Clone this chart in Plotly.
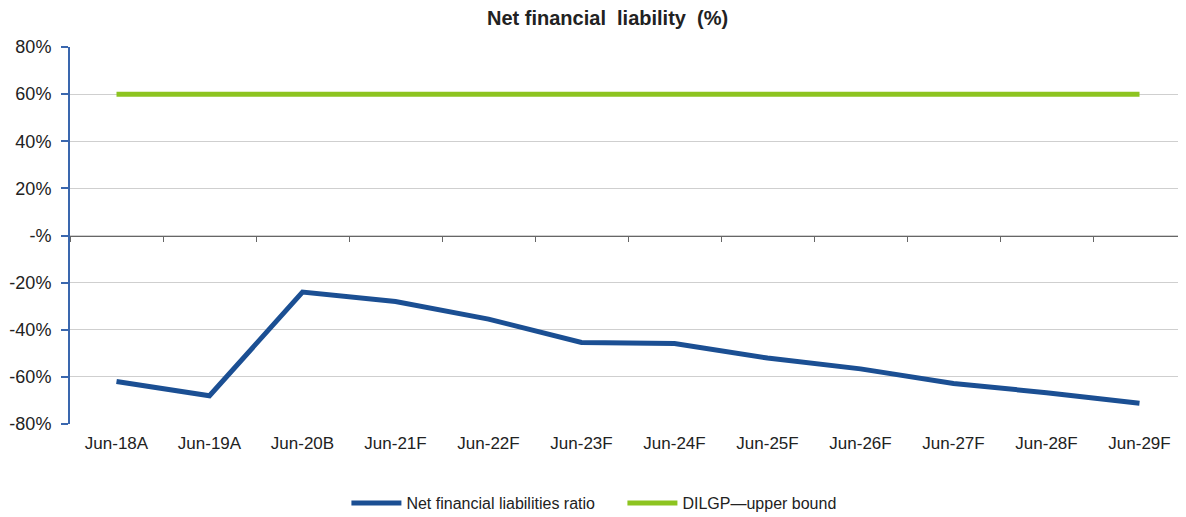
"""
Net financial liability chart
Recreate the ratio vs upper bound line chart
"""

import plotly.graph_objects as go

# categories on the x axis
periods = [
    "Jun-18A", "Jun-19A", "Jun-20B", "Jun-21F", "Jun-22F", "Jun-23F",
    "Jun-24F", "Jun-25F", "Jun-26F", "Jun-27F", "Jun-28F", "Jun-29F",
]

# series values (%)
net_liab_ratio = [-62, -68, -24, -28, -35.5, -45.4, -45.8, -52, -56.6, -62.8, -66.7, -71.2]
dilgp_upper = [60, 60, 60, 60, 60, 60, 60, 60, 60, 60, 60, 60]

# y tick labels
y_ticks = [80, 60, 40, 20, 0, -20, -40, -60, -80]
y_tick_text = ["80%", "60%", "40%", "20%", "-%", "-20%", "-40%", "-60%", "-80%"]

BLUE = "#1B4F93"
GREEN = "#8DC420"
AXIS_BLUE = "#3A67AE"
FONT = "Liberation Sans, Arial, sans-serif"

# page body has an 8px margin, so the figure is sized to fit the window
W, H = 1178, 509

fig = go.Figure()

fig.add_trace(
    go.Scatter(
        x=periods,
        y=net_liab_ratio,
        mode="lines",
        name="Net financial liabilities ratio",
        line=dict(color=BLUE, width=5),
    )
)

fig.add_trace(
    go.Scatter(
        x=periods,
        y=dilgp_upper,
        mode="lines",
        name="DILGP\u2014upper bound",
        line=dict(color=GREEN, width=5),
        xaxis="x2",
    )
)

fig.update_layout(
    title=dict(
        text="<b>Net financial  liability  (%)</b>",
        x=0.509,
        xanchor="center",
        y=1 - 10 / H,
        yref="container",
        yanchor="middle",
        font=dict(family=FONT, size=20, color="#222"),
    ),
    width=W,
    height=H,
    margin=dict(l=62, r=0, t=39, b=93, autoexpand=False),
    paper_bgcolor="white",
    plot_bgcolor="white",
    font=dict(family=FONT, size=16, color="#222"),
    showlegend=True,
    legend=dict(
        orientation="h",
        x=0.495,
        xanchor="center",
        y=-0.21,
        yanchor="middle",
        font=dict(size=16),
        itemwidth=50,
        entrywidth=211,
        tracegroupgap=0,
    ),
    # category labels sit at the bottom
    xaxis=dict(
        type="category",
        range=[-0.5, 11.5],
        automargin=False,
        showgrid=False,
        showline=False,
        zeroline=False,
        ticks="",
        ticklabelstandoff=7,
        tickfont=dict(size=17),
    ),
    # axis line with boundary ticks drawn along the zero line
    xaxis2=dict(
        type="category",
        overlaying="x",
        anchor="free",
        position=0.5,
        range=[-0.5, 11.5],
        automargin=False,
        showline=True,
        linecolor="#666",
        linewidth=1,
        ticks="outside",
        tickson="boundaries",
        ticklen=5,
        tickcolor="#666",
        showticklabels=False,
        showgrid=False,
        zeroline=False,
    ),
    yaxis=dict(
        range=[-80, 80],
        automargin=False,
        tickvals=y_ticks,
        ticktext=y_tick_text,
        showgrid=True,
        gridcolor="#CFCFCF",
        gridwidth=1,
        zeroline=False,
        showline=True,
        linecolor=AXIS_BLUE,
        linewidth=2,
        ticks="outside",
        ticklen=7,
        tickcolor=AXIS_BLUE,
        tickwidth=2,
        ticklabelstandoff=6,
        tickfont=dict(size=18),
    ),
)

fig.write_html("out.html")
